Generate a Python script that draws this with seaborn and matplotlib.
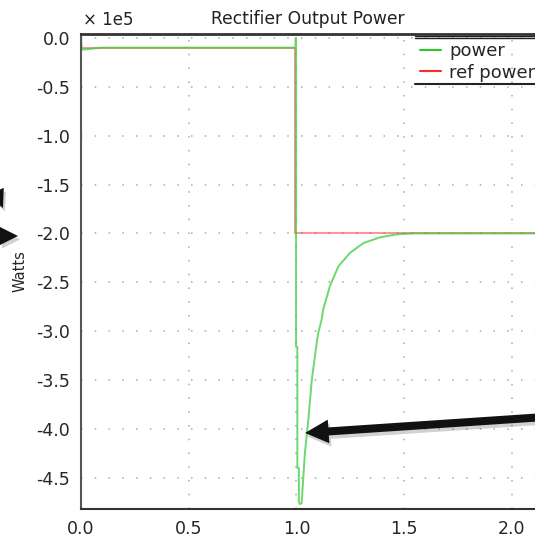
import matplotlib
matplotlib.use("Agg")
import matplotlib.pyplot as plt
import matplotlib.patheffects as pe
from matplotlib.lines import Line2D
import seaborn as sns

sns.set_style("white")
plt.rcParams["font.family"] = ["DejaVu Sans"]
plt.rcParams["axes.unicode_minus"] = False

# ── data (units of 1e5 W) ────────────────────────────────────────────────────
time_power = [0.0, 0.004, 0.03, 0.09, 0.995, 0.996, 0.998, 0.998, 1.004, 1.004,
              1.011, 1.011, 1.016, 1.024, 1.029, 1.039, 1.055, 1.071, 1.094,
              1.101, 1.117, 1.124, 1.155, 1.194, 1.248, 1.31, 1.388, 1.465,
              1.54, 2.14]
power = [0.0, -0.12, -0.115, -0.10, -0.10, 0.0, 0.0, -3.16, -3.16, -4.40,
         -4.40, -4.75, -4.77, -4.76, -4.59, -4.25, -3.91, -3.50, -3.12,
         -3.02, -2.88, -2.78, -2.54, -2.34, -2.20, -2.10, -2.04, -2.01,
         -2.0, -2.0]
time_ref = [0.0, 0.995, 0.995, 2.14]
ref_power = [-0.10, -0.10, -2.0, -2.0]

x_ticks = [0.0, 0.5, 1.0, 1.5, 2.0]
y_ticks = [0.0, -0.5, -1.0, -1.5, -2.0, -2.5, -3.0, -3.5, -4.0, -4.5]

GREEN = "#3ccc3c"
RED = "#ff4040"

fig = plt.figure(figsize=(5.35, 5.37), dpi=100)
ax = fig.add_axes([81 / 535, 1 - 509 / 537, 1 - 81 / 535, (509 - 34) / 537])

sns.lineplot(x=time_ref, y=ref_power, estimator=None, sort=False, ax=ax,
             color=RED, alpha=0.55, linewidth=1.5)
sns.lineplot(x=time_power, y=power, estimator=None, sort=False, ax=ax,
             color=GREEN, alpha=0.75, linewidth=1.4)

ax.set_xlim(0, 2.107)
ax.set_ylim(-4.82, 0.04)
ax.set_xticks(x_ticks)
ax.set_yticks(y_ticks)
ax.set_xticklabels([f"{v:.1f}" for v in x_ticks], fontsize=12.5)
ax.set_yticklabels([f"{v:.1f}" for v in y_ticks], fontsize=12.5)
ax.tick_params(length=0, pad=8)
ax.grid(True, color="#aaaaaa", linestyle=(0, (1, 8)), linewidth=1.1)

ax.spines["right"].set_visible(False)
ax.spines["left"].set_color("#555555")
ax.spines["left"].set_linewidth(1.5)
ax.spines["bottom"].set_color("#333333")
ax.spines["bottom"].set_linewidth(1.5)
ax.spines["top"].set_color("#333333")
ax.spines["top"].set_linewidth(2)

ax.set_title("Rectifier Output Power", fontsize=12.3, color="#222222", pad=7)
ax.set_ylabel("Watts", fontsize=10.5, labelpad=6)
ax.set_xlabel("")
fig.text(83 / 535, 1 - 20 / 537, "× 1e5", fontsize=12, va="center", ha="left",
         color="#222222")

# legend (clipped at the right edge like the screenshot)
handles = [Line2D([], [], color="#22cc22", lw=1.5, label="power"),
           Line2D([], [], color="#ff2a2a", lw=1.5, label="ref power")]
ax.legend(handles=handles, loc="upper left", bbox_to_anchor=(0.722, 1.006),
          frameon=False, fontsize=13, handlelength=1.2, handletextpad=0.45,
          labelspacing=0.2, borderaxespad=0.2)
lx0 = (415 - 81) / 454
for yy, lw in [(1 - 1.5 / 475, 1.0), (1 - 4.0 / 475, 1.0), (1 - 50 / 475, 1.5)]:
    ax.plot([lx0, 1.0], [yy, yy], transform=ax.transAxes, color="#222222",
            lw=lw, clip_on=False)

# slide arrows
shadow = [pe.SimplePatchShadow(offset=(1.5, -2.5), alpha=0.18), pe.Normal()]


def slide_arrow(tip, tail, scale):
    ann = fig.add_artist(plt.Annotation(
        "", xy=(tip[0] / 535, 1 - tip[1] / 537),
        xytext=(tail[0] / 535, 1 - tail[1] / 537),
        xycoords="figure fraction", textcoords="figure fraction",
        arrowprops=dict(arrowstyle="simple,head_length=1.0,head_width=1.0,tail_width=0.34",
                        fc="#111111", ec="none", shrinkA=0, shrinkB=0,
                        mutation_scale=scale),
        annotation_clip=False))
    ann.arrow_patch.set_path_effects(shadow)


slide_arrow((305, 433), (560, 416), 17)
slide_arrow((18, 236), (-30, 236), 13)
slide_arrow((3, 208), (-12, 175), 13)

fig.savefig("out.png", dpi=100)
